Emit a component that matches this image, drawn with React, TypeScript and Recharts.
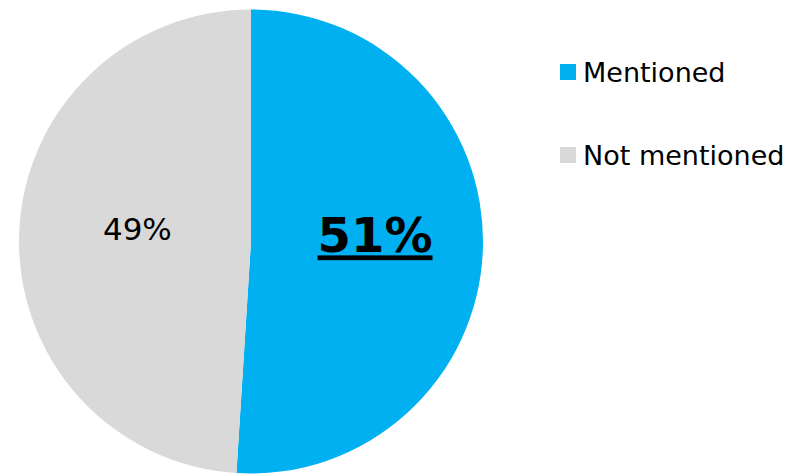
import React from 'react';
import { PieChart, Pie, Cell, Legend } from 'recharts';

const categories = ['Mentioned', 'Not mentioned'];
const shares = [51, 49];
const colors = ['#00B0F0', '#D9D9D9'];

const data = categories.map((name, i) => ({ name, value: shares[i] }));

const RAD = Math.PI / 180;

const renderLabel = (props: any) => {
  const { cx, cy, midAngle, outerRadius, index, value } = props;
  const big = index === 0;
  const r = outerRadius * (big ? 0.535 : 0.49);
  const x = cx + r * Math.cos(-midAngle * RAD);
  const y = cy + r * Math.sin(-midAngle * RAD);
  return (
    <text
      x={x}
      y={y + (big ? 7 : 2)}
      textAnchor="middle"
      fill="#000"
      style={{
        fontFamily: '"DejaVu Sans", Verdana, sans-serif',
        fontSize: big ? 48 : 31,
        fontWeight: big ? 'bold' : 'normal',
        textDecoration: big ? 'underline' : 'none',
      }}
    >
      {`${value}%`}
    </text>
  );
};

const renderLegend = (props: any) => {
  const { payload } = props;
  return (
    <div style={{ fontFamily: '"DejaVu Sans", Verdana, sans-serif' }}>
      {payload.map((entry: any, i: number) => (
        <div
          key={entry.value}
          style={{
            display: 'flex',
            alignItems: 'center',
            height: 30,
            marginBottom: i === 0 ? 53 : 0,
          }}
        >
          <span
            style={{
              width: 16,
              height: 16,
              background: entry.color,
              display: 'inline-block',
              marginRight: 7,
            }}
          />
          <span style={{ fontSize: 27, color: '#000', whiteSpace: 'nowrap' }}>{entry.value}</span>
        </div>
      ))}
    </div>
  );
};

export default function App() {
  return (
    <div style={{ position: 'absolute', left: 0, top: 0, width: 791, height: 476, background: '#fff' }}>
      <PieChart width={791} height={476} margin={{ top: 0, right: 0, bottom: 0, left: 0 }}>
        <Pie
          data={data}
          dataKey="value"
          nameKey="name"
          cx={251}
          cy={241.5}
          outerRadius={232}
          startAngle={90}
          endAngle={-270}
          stroke="none"
          labelLine={false}
          label={renderLabel}
          isAnimationActive={false}
        >
          {data.map((d, i) => (
            <Cell key={d.name} fill={colors[i]} />
          ))}
        </Pie>
        <Legend
          layout="vertical"
          verticalAlign="top"
          align="right"
          content={renderLegend}
          wrapperStyle={{ left: 560, top: 57, width: 231 }}
        />
      </PieChart>
    </div>
  );
}
